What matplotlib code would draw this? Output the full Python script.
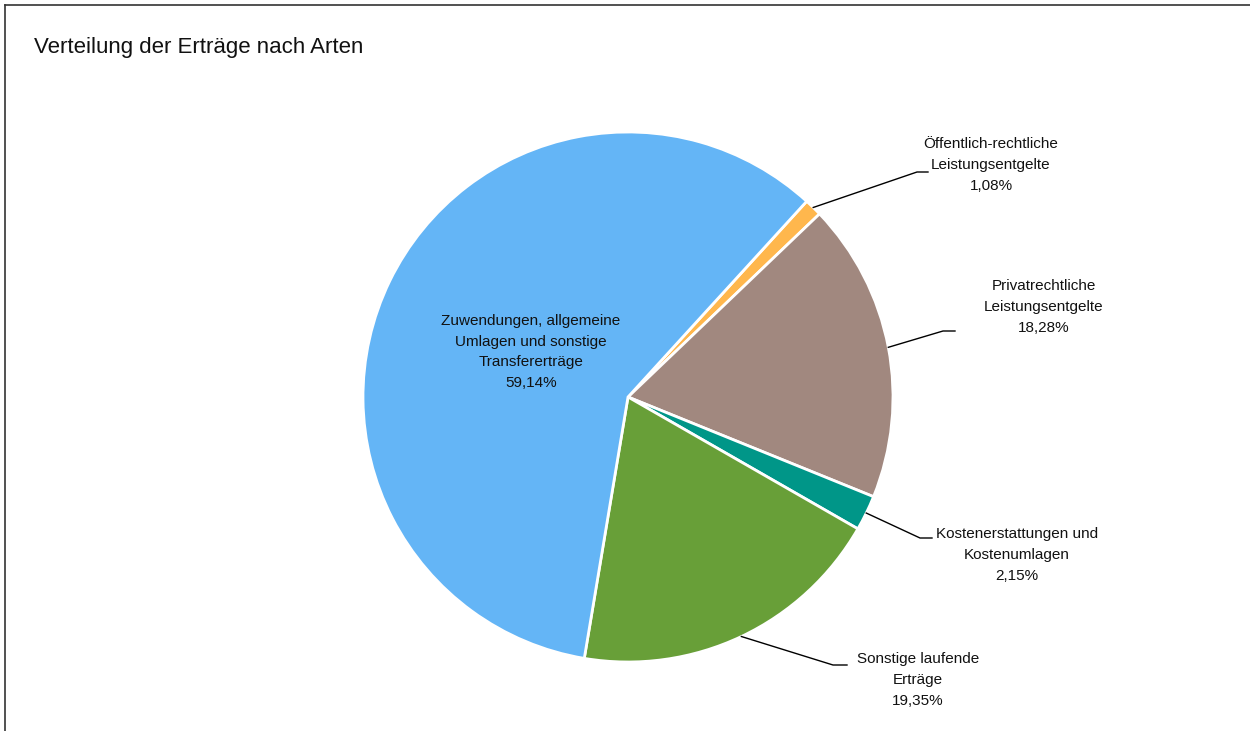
import numpy as np
import matplotlib.pyplot as plt
from matplotlib.lines import Line2D

plt.rcParams['font.family'] = ['Liberation Sans', 'DejaVu Sans']

# data
categories = [
    "Öffentlich-rechtliche\nLeistungsentgelte",
    "Privatrechtliche\nLeistungsentgelte",
    "Kostenerstattungen und\nKostenumlagen",
    "Sonstige laufende\nErträge",
    "Zuwendungen, allgemeine\nUmlagen und sonstige\nTransfererträge",
]
shares = [1.08, 18.28, 2.15, 19.35, 59.14]
colors = ["#FFB74D", "#A1887F", "#009688", "#689F38", "#64B5F6"]

# layout in pixel units (y measured from bottom)
W, H = 1250, 731
cx, cy, R = 628, H - 397, 265
# label text centre and elbow of the leader line (None = label inside slice)
label_pos = [(991, H - 165), (1044, H - 307), (1017, H - 555), (918, H - 680), (531, H - 352)]
elbows = [(917, H - 172), (943, H - 331), (920, H - 538), (833, H - 665), None]
elbow_ends = [(928, H - 172), (955, H - 331), (932, H - 538), (847, H - 665), None]

fig = plt.figure(figsize=(W / 100, H / 100), dpi=100)
ax = fig.add_axes([0, 0, 1, 1])

wedges, _ = ax.pie(shares, colors=colors, startangle=47.6, counterclock=False,
                   center=(cx, cy), radius=R, frame=True,
                   wedgeprops=dict(edgecolor='white', linewidth=2))
ax.set_xlim(0, W)
ax.set_ylim(0, H)
ax.set_aspect('equal')
ax.axis('off')

for i, w in enumerate(wedges):
    txt = categories[i] + "\n" + f"{shares[i]:.2f}%".replace(".", ",")
    x, y = label_pos[i]
    ax.text(x, y, txt, ha='center', va='center', fontsize=11, color='#111111',
            linespacing=1.6)
    if elbows[i] is not None:
        ang = np.deg2rad((w.theta1 + w.theta2) / 2)
        sx, sy = cx + R * np.cos(ang), cy + R * np.sin(ang)
        ex, ey = elbows[i]
        fx, fy = elbow_ends[i]
        ax.plot([sx, ex, fx], [sy, ey, fy], color='black', lw=1)

fig.text(34 / W, 1 - 48 / H, "Verteilung der Erträge nach Arten", fontsize=16,
         ha='left', va='center', color='#111111')

# chart frame (top and left edges visible)
fig.add_artist(Line2D([4.5 / W, 4.5 / W], [0, 1 - 5 / H], color='#333333', lw=1.2))
fig.add_artist(Line2D([4.5 / W, 1], [1 - 5 / H, 1 - 5 / H], color='#333333', lw=1.2))

fig.savefig("out.png", dpi=100)
